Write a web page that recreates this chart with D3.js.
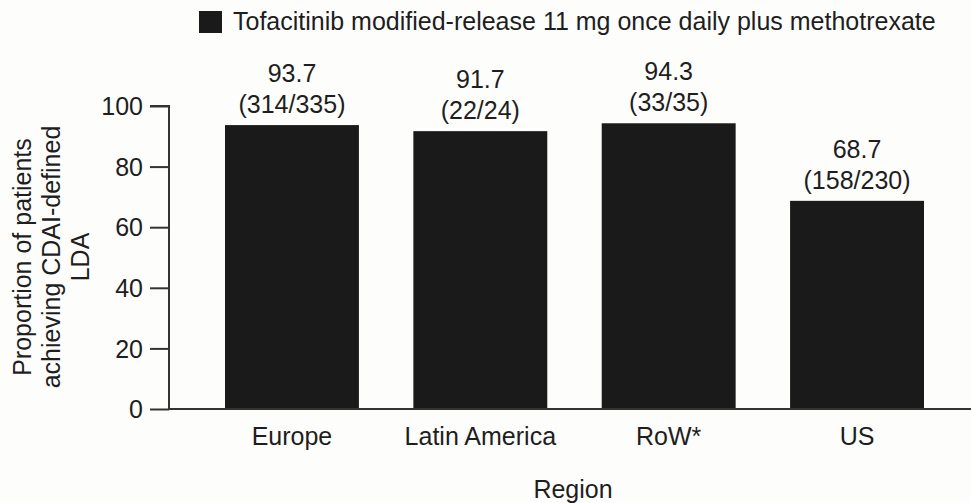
<!DOCTYPE html>
<html>
<head>
<meta charset="utf-8">
<script src="https://cdn.jsdelivr.net/npm/d3@7/dist/d3.min.js"></script>
<style>
  html, body { margin: 0; padding: 0; background: #fdfdfc; }
  svg { display: block; }
  text { font-family: "Liberation Sans", Arial, Helvetica, sans-serif; fill: #1e1e1e; }
</style>
</head>
<body>
<svg id="chart" width="971" height="503"></svg>
<script>
const categories = ["Europe", "Latin America", "RoW*", "US"];
const values = [93.7, 91.7, 94.3, 68.7];
const counts = ["(314/335)", "(22/24)", "(33/35)", "(158/230)"];
const yTicks = [0, 20, 40, 60, 80, 100];
const seriesName = "Tofacitinib modified-release 11 mg once daily plus methotrexate";
const yTitleLines = ["Proportion of patients", "achieving CDAI-defined", "LDA"];
const xTitle = "Region";

const svg = d3.select("#chart");
const barColor = "#1a1a1a";
const axisColor = "#333";
const fs = "25px";

const x = d3.scaleBand().domain(categories).range([225, 924]).paddingInner(0.289).paddingOuter(0);
const y = d3.scaleLinear().domain([0, 100]).range([409, 106]);

// y axis
const yAxis = d3.axisLeft(y).tickValues(yTicks).tickSize(19).tickPadding(7).tickFormat(d3.format("d"));
const gy = svg.append("g").attr("transform", "translate(169,0)").call(yAxis);
gy.select(".domain").attr("stroke", axisColor).attr("stroke-width", 2).attr("d", `M-19,${y(100)}H0V${y(0)}`);
gy.selectAll(".tick line").attr("stroke", axisColor).attr("stroke-width", 2);
gy.selectAll(".tick text").style("font-size", fs).attr("fill", "#1e1e1e").attr("dy", "0.35em");

// bars
svg.append("g").selectAll("rect").data(categories).join("rect")
  .attr("x", d => x(d))
  .attr("y", (d, i) => y(values[i]))
  .attr("width", x.bandwidth())
  .attr("height", (d, i) => y(0) - y(values[i]))
  .attr("fill", barColor);

// x axis baseline
svg.append("line").attr("x1", 168).attr("x2", 971).attr("y1", y(0)).attr("y2", y(0))
  .attr("stroke", axisColor).attr("stroke-width", 2);

// x category labels
svg.append("g").selectAll("text").data(categories).join("text")
  .attr("x", d => x(d) + x.bandwidth() / 2)
  .attr("y", 445)
  .attr("text-anchor", "middle")
  .style("font-size", fs)
  .text(d => d);

// value labels
const lab = svg.append("g").selectAll("g").data(categories).join("g");
lab.append("text")
  .attr("x", d => x(d) + x.bandwidth() / 2)
  .attr("y", (d, i) => y(values[i]) - 43)
  .attr("text-anchor", "middle").style("font-size", fs)
  .text((d, i) => values[i].toFixed(1));
lab.append("text")
  .attr("x", d => x(d) + x.bandwidth() / 2)
  .attr("y", (d, i) => y(values[i]) - 12)
  .attr("text-anchor", "middle").style("font-size", fs)
  .text((d, i) => counts[i]);

// legend
svg.append("rect").attr("x", 199).attr("y", 11).attr("width", 23).attr("height", 22).attr("fill", barColor);
svg.append("text").attr("x", 233).attr("y", 30).style("font-size", fs).text(seriesName);

// y title
const yt = svg.append("text").attr("transform", "translate(0,257) rotate(-90)").attr("text-anchor", "middle").style("font-size", fs);
yTitleLines.forEach((l, i) => {
  yt.append("tspan").attr("x", 0).attr("y", 31 + i * 29).text(l);
});

// x title
svg.append("text").attr("x", 573).attr("y", 498).attr("text-anchor", "middle").style("font-size", fs).text(xTitle);
</script>
</body>
</html>
